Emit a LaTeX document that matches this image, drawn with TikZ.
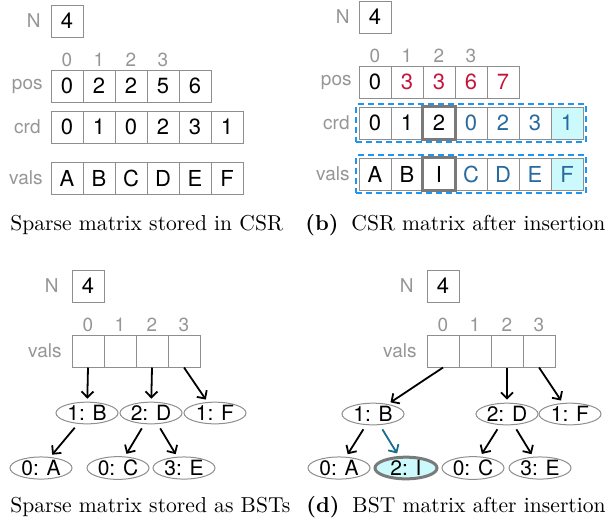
\documentclass[tikz,border=0pt]{standalone}
\usepackage{fontspec}
\newfontfamily\helv{TeX Gyre Heros}
\usetikzlibrary{arrows.meta,shapes.geometric,fit}

\definecolor{linegray}{HTML}{8E8E8E}
\definecolor{labelgray}{HTML}{969696}
\definecolor{posred}{HTML}{C4163C}
\definecolor{movblue}{HTML}{28699E}
\definecolor{dashblue}{HTML}{1E96F0}
\definecolor{newcyan}{HTML}{CCFAFC}
\definecolor{higray}{HTML}{7A7A7A}
\definecolor{ptrblue}{HTML}{1B6D8F}

\tikzset{
  arrcell/.style={draw=linegray, line width=.5pt, minimum width=16pt, minimum height=16pt,
    inner sep=0pt, font=\helv\fontsize{11}{12}\selectfont},
  movcell/.style={arrcell, text=movblue},
  newcell/.style={movcell, fill=newcyan},
  redcell/.style={arrcell, text=posred},
  hibox/.style={draw=higray, line width=1.5pt},
  idx/.style={text=labelgray, inner sep=0pt, font=\helv\fontsize{9.5}{10}\selectfont},
  rowlabel/.style={anchor=east, text=labelgray, inner sep=0pt, font=\helv\fontsize{9.5}{12}\selectfont},
  bst/.style={ellipse, draw=linegray, line width=.5pt, minimum width=31pt, minimum height=10.5pt,
    inner sep=0pt, font=\helv\fontsize{10.5}{12}\selectfont},
  newbst/.style={bst, fill=newcyan, draw=higray, line width=1.5pt},
  ptr/.style={-{Straight Barb[length=3pt,width=6pt]}, line width=.9pt, shorten >=1.5pt},
  treeptr/.style={ptr, shorten <=2.5pt},
  dashbox/.style={draw=dashblue, line width=1.2pt, dash pattern=on 3pt off 2pt, inner sep=1.2pt},
  capt/.style={anchor=west, inner sep=0pt, font=\fontsize{10.8}{13}\selectfont},
}

\begin{document}
\begin{tikzpicture}[x=.5pt,y=-.5pt]
\useasboundingbox (0,0) rectangle (613,531);

% CSR
\node[rowlabel] (aNl) at (41,21) {N};
\node[arrcell] (aN) at (67,21) {4};
\foreach \i in {0,...,3}
  \node[idx] (aidx\i) at ({67+32*\i},60) {\i};
\node[rowlabel] (aposl) at (43,86) {pos};
\foreach \v [count=\i from 0] in {0,2,2,5,6}
  \node[arrcell] (apos\i) at ({67+32*\i},86) {\v};
\node[rowlabel] (acrdl) at (41,127) {crd};
\foreach \v [count=\i from 0] in {0,1,0,2,3,1}
  \node[arrcell] (acrd\i) at ({67+32*\i},127) {\v};
\node[rowlabel] (avalsl) at (43,178) {vals};
\foreach \v [count=\i from 0] in {A,B,C,D,E,F}
  \node[arrcell] (avals\i) at ({67+32*\i},178) {\v};
\node[capt] (acap) at (10,225) {Sparse matrix stored in CSR};

% CSR after insertion
\node[rowlabel] (bNl) at (350,17) {N};
\node[arrcell] (bN) at (375,17) {4};
\foreach \i in {0,...,3}
  \node[idx] (bidx\i) at ({375+32*\i},56) {\i};
\node[rowlabel] (bposl) at (352,82) {pos};
\foreach \v/\s [count=\i from 0] in {0/arrcell,3/redcell,3/redcell,6/redcell,7/redcell}
  \node[\s] (bpos\i) at ({375+32*\i},82) {\v};
\node[rowlabel] (bcrdl) at (350,123) {crd};
\foreach \v/\s [count=\i from 0] in {0/arrcell,1/arrcell,2/arrcell,0/movcell,2/movcell,3/movcell,1/newcell}
  \node[\s] (bcrd\i) at ({375+32*\i},123) {\v};
\node[rowlabel] (bvalsl) at (350,174) {vals};
\foreach \v/\s [count=\i from 0] in {A/arrcell,B/arrcell,I/arrcell,C/movcell,D/movcell,E/movcell,F/newcell}
  \node[\s] (bvals\i) at ({375+32*\i},174) {\v};
\draw[hibox] (bcrd2.north west) rectangle (bcrd2.south east);
\draw[hibox] (bvals2.north west) rectangle (bvals2.south east);
\node[dashbox, fit=(bcrd0)(bcrd6)] (bcrdbox) {};
\node[dashbox, fit=(bvals0)(bvals6)] (bvalsbox) {};
\node[capt] (bcap) at (305,225) {\textbf{(b)}\hspace{.6em}CSR matrix after insertion};

% BSTs
\node[rowlabel] (cNl) at (59,286) {N};
\node[arrcell] (cN) at (88,286) {4};
\node[rowlabel] (cvalsl) at (62,351) {vals};
\foreach \i in {0,...,3} {
  \node[idx] (cidx\i) at ({88+32*\i},325) {\i};
  \node[arrcell] (cvals\i) at ({88+32*\i},351) {};
}
\node[bst] (cB) at (87,413) {1: B};
\node[bst] (cD) at (151,413) {2: D};
\node[bst] (cF) at (215,413) {1: F};
\node[bst] (cA) at (41,468) {0: A};
\node[bst] (cC) at (118,468) {0: C};
\node[bst] (cE) at (184,468) {3: E};
\draw[ptr] (cvals0.south) -- (cB);
\draw[ptr] (cvals2.south) -- (cD);
\draw[ptr] (cvals3.south) -- (cF);
\draw[treeptr] (cB) -- (cA);
\draw[treeptr] (cD) -- (cC);
\draw[treeptr] (cD) -- (cE);
\node[capt] (ccap) at (10,507) {Sparse matrix stored as BSTs};

% BSTs after insertion
\node[rowlabel] (dNl) at (414,286) {N};
\node[arrcell] (dN) at (443,286) {4};
\node[rowlabel] (dvalsl) at (417,351) {vals};
\foreach \i in {0,...,3} {
  \node[idx] (didx\i) at ({443+32*\i},325) {\i};
  \node[arrcell] (dvals\i) at ({443+32*\i},351) {};
}
\node[bst] (dB) at (373,414) {1: B};
\node[bst] (dD) at (507,414) {2: D};
\node[bst] (dF) at (570,414) {1: F};
\node[bst] (dA) at (339,468) {0: A};
\node[newbst] (dI) at (406,468) {2: I};
\node[bst] (dC) at (473,468) {0: C};
\node[bst] (dE) at (540,468) {3: E};
\draw[ptr] (dvals0.south) -- (dB);
\draw[ptr] (dvals2.south) -- (dD);
\draw[ptr] (dvals3.south) -- (dF);
\draw[treeptr] (dB) -- (dA);
\draw[treeptr, ptrblue] (dB) -- (dI);
\draw[treeptr] (dD) -- (dC);
\draw[treeptr] (dD) -- (dE);
\node[capt] (dcap) at (306,507) {\textbf{(d)}\hspace{.6em}BST matrix after insertion};
\end{tikzpicture}
\end{document}
